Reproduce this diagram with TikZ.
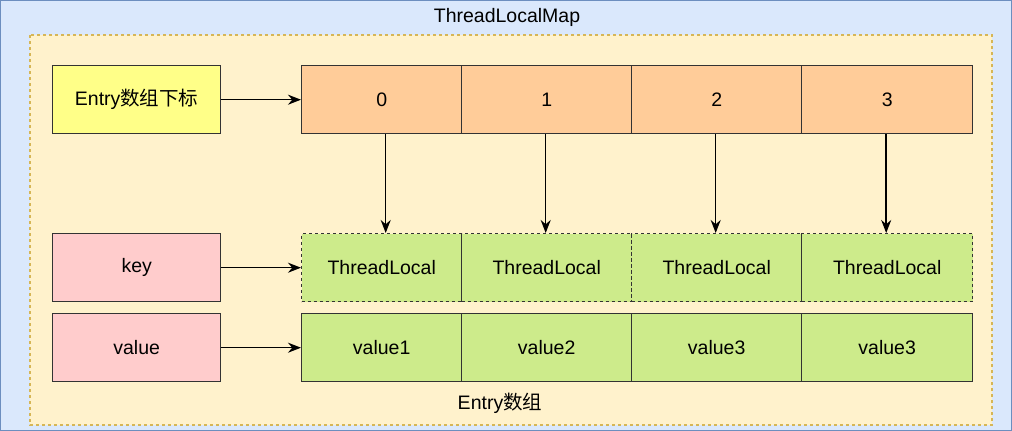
\documentclass[tikz,border=0pt]{standalone}
\usepackage{fontspec}
\usetikzlibrary{arrows.meta}
\setmainfont{Liberation Sans}
\newfontfamily\cjk{Noto Sans CJK SC}
\definecolor{bgblue}{HTML}{DAE8FC}
\definecolor{bdblue}{HTML}{6C8EBF}
\definecolor{ylw}{HTML}{FFF2CC}
\definecolor{ylwd}{HTML}{D6B656}
\definecolor{orng}{HTML}{FFCC99}
\definecolor{grn}{HTML}{CDEB8B}
\definecolor{pnk}{HTML}{FFCCCC}
\definecolor{lab}{HTML}{FFFF88}
\begin{document}
\begin{tikzpicture}[x=1pt,y=-1pt,font=\fontsize{19.5}{22}\selectfont,
 cell/.style={draw=black!80,line width=1.4pt,minimum width=170pt,minimum height=68pt,inner sep=0pt,anchor=north west},
 lbl/.style={draw=black!80,line width=1.4pt,minimum width=168pt,minimum height=68pt,inner sep=0pt,anchor=north west},
 arr/.style={-{Stealth[length=13pt,width=10pt]},line width=1.5pt}]
\fill[bgblue,draw=bdblue,line width=1.4pt] (0.7,0.7) rectangle (1011.3,430.3);
\useasboundingbox (0,0) rectangle (1012,431);
\node (title) at (507,17) {ThreadLocalMap};
\draw[ylwd,fill=ylw,dashed,line width=1.2pt] (30,35) rectangle (992,425);
\node[lbl,fill=lab] (idx) at (52,65) {Entry{\cjk 数组下标}};
\node[lbl,fill=pnk] (key) at (52,233) {key};
\node[lbl,fill=pnk] (val) at (52,313) {value};
\node[cell,fill=orng,minimum width=160pt] (o0) at (301,65) {0};
\node[cell,fill=orng] (o1) at (461,65) {1};
\node[cell,fill=orng] (o2) at (631,65) {2};
\node[cell,fill=orng,minimum width=171pt] (o3) at (801,65) {3};
\node[cell,fill=grn,dashed,minimum width=160pt] (k0) at (301,233) {ThreadLocal};
\node[cell,fill=grn,dashed] (k1) at (461,233) {ThreadLocal};
\node[cell,fill=grn,dashed] (k2) at (631,233) {ThreadLocal};
\node[cell,fill=grn,dashed,minimum width=171pt] (k3) at (801,233) {ThreadLocal};
\node[cell,fill=grn,minimum width=160pt] (v0) at (301,313) {value1};
\node[cell,fill=grn] (v1) at (461,313) {value2};
\node[cell,fill=grn] (v2) at (631,313) {value3};
\node[cell,fill=grn,minimum width=171pt] (v3) at (801,313) {value3};
\node (ea) at (500,403) {Entry{\cjk 数组}};
\draw[arr] (idx.east) -- (o0.west);
\draw[arr] (key.east) -- (k0.west);
\draw[arr] (val.east) -- (v0.west);
\draw[arr] ([xshift=4pt]o0.south) -- ([xshift=4pt]k0.north);
\foreach \i in {1,2,3}{\draw[arr] ([xshift=-1pt]o\i.south) -- ([xshift=-1pt]k\i.north);}
\end{tikzpicture}
\end{document}
